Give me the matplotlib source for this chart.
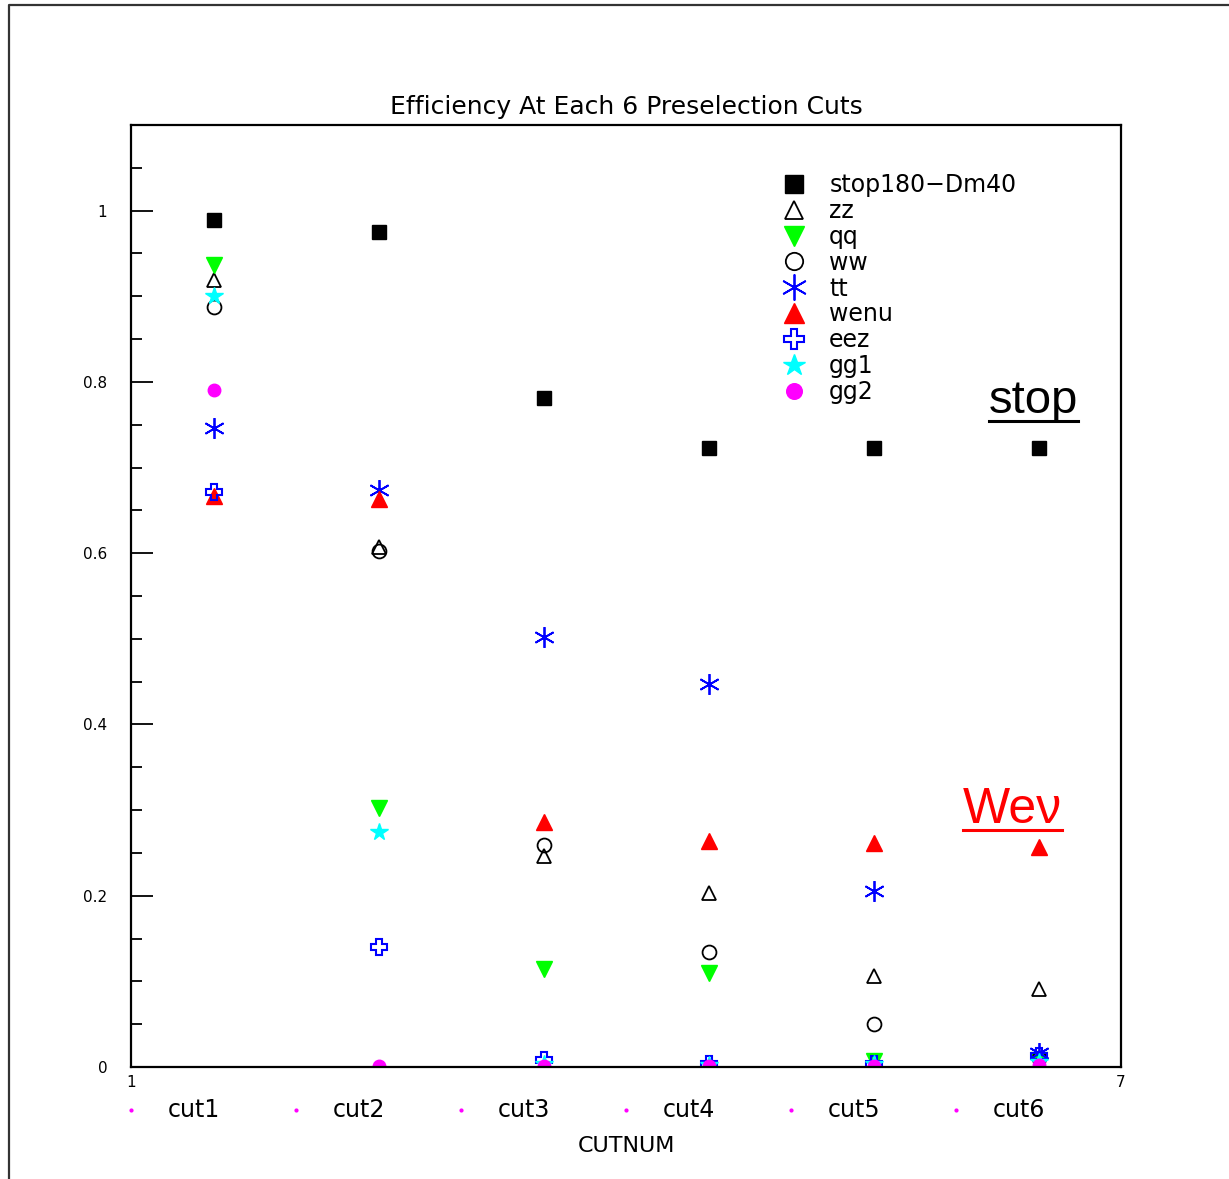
"""
Efficiency at each of the 6 preselection cuts
"""
import matplotlib
matplotlib.use('Agg')
import matplotlib.pyplot as plt
from matplotlib.lines import Line2D
from matplotlib.ticker import MultipleLocator

cuts = [1.5, 2.5, 3.5, 4.5, 5.5, 6.5]
cut_labels = ['cut1', 'cut2', 'cut3', 'cut4', 'cut5', 'cut6']

stop = [0.989, 0.975, 0.781, 0.723, 0.723, 0.723]
zz = [0.919, 0.607, 0.246, 0.203, 0.106, 0.091]
qq = [0.936, 0.302, 0.114, 0.110, 0.007, 0.008]
ww = [0.888, 0.603, 0.259, 0.134, 0.050, 0.010]
tt = [0.746, 0.674, 0.502, 0.447, 0.205, 0.016]
wenu = [0.667, 0.663, 0.286, 0.264, 0.261, 0.257]
eez = [0.672, 0.140, 0.008, 0.003, 0.004, 0.013]
gg1 = [0.900, 0.274, 0.003, 0.002, 0.003, 0.006]
gg2 = [0.790, 0.001, 0.001, 0.001, 0.001, 0.002]

series = [
    ('stop180\u2212Dm40', stop, dict(marker='s', color='black', ms=10)),
    ('zz', zz, dict(marker='^', color='black', mfc='none', ms=10, mew=1.3)),
    ('qq', qq, dict(marker='v', color='#00ff00', ms=11)),
    ('ww', ww, dict(marker='o', color='black', mfc='none', ms=10, mew=1.3)),
    ('tt', tt, dict(marker=(6, 2, 0), color='#0000ff', ms=15, mew=1.3)),
    ('wenu', wenu, dict(marker='^', color='#ff0000', ms=11)),
    ('eez', eez, dict(marker='P', color='#0000ff', mfc='none', ms=11, mew=1.5)),
    ('gg1', gg1, dict(marker='*', color='#00ffff', ms=13)),
    ('gg2', gg2, dict(marker='o', color='#ff00ff', ms=9)),
]

fig = plt.figure(figsize=(12.29, 11.79), dpi=100)
ax = fig.add_axes([131/1229, 1 - 1067/1179, 990/1229, 942/1179])

for name, vals, st in series:
    ax.plot(cuts, vals, linestyle='none', label=name, **st)

ax.set_xlim(1, 7)
ax.set_ylim(0, 1.1)
for s in ax.spines.values():
    s.set_linewidth(1.6)

ax.set_yticks([0, 0.2, 0.4, 0.6, 0.8, 1.0])
ax.set_yticklabels(['0', '0.2', '0.4', '0.6', '0.8', '1'])
ax.yaxis.set_minor_locator(MultipleLocator(0.05))
ax.tick_params(axis='y', which='major', direction='in', length=16, width=1.3, labelsize=11, pad=17)
ax.tick_params(axis='y', which='minor', direction='in', length=8, width=1.3)
ax.set_xticks([1, 7])
ax.set_xticklabels(['1', '7'])
ax.tick_params(axis='x', length=0, labelsize=11, pad=6)

ax.set_title('Efficiency At Each 6 Preselection Cuts', fontsize=18, pad=8)
ax.set_xlabel('CUTNUM', fontsize=16, labelpad=33)

# cut labels under the axis, each with a small magenta dot
for i, lab in enumerate(cut_labels):
    ax.plot(i + 1, -0.05, marker='o', color='#ff00ff', ms=2, clip_on=False)
    ax.text(i + 1.38, -0.05, lab, fontsize=17, ha='center', va='center')

ax.legend(loc='upper left', bbox_to_anchor=(0.6576, 0.949), frameon=False,
          fontsize=17, handlelength=1.0, handletextpad=1.0, labelspacing=0.08,
          borderpad=0, borderaxespad=0, numpoints=1, markerscale=1.25)

t_stop = ax.text(6.2, 0.764, 'stop', fontsize=34, family='Liberation Sans',
                 color='black', ha='left', va='baseline')
t_wev = ax.text(6.04, 0.285, 'We\u03bd', fontsize=36, family='Liberation Sans',
                color='#ff0000', ha='left', va='baseline')

fig.canvas.draw()
r = fig.canvas.get_renderer()
for t, c, off in [(t_stop, 'black', 8), (t_wev, '#ff0000', 7)]:
    bb = t.get_window_extent(r)
    inv = fig.transFigure.inverted()
    (x0, _), (x1, _) = inv.transform([(bb.x0, 0), (bb.x1, 0)])
    by = ax.transData.transform((0, t.get_position()[1]))[1] - off
    _, yb = inv.transform((0, by))
    fig.add_artist(Line2D([x0, x1], [yb, yb], color=c, lw=2.2, transform=fig.transFigure))

# outer frame
fig.add_artist(Line2D([9/1229, 9/1229, 1], [0, 1 - 5/1179, 1 - 5/1179],
                      color='#333333', lw=1.6, transform=fig.transFigure))

fig.savefig('out.png', dpi=100)
